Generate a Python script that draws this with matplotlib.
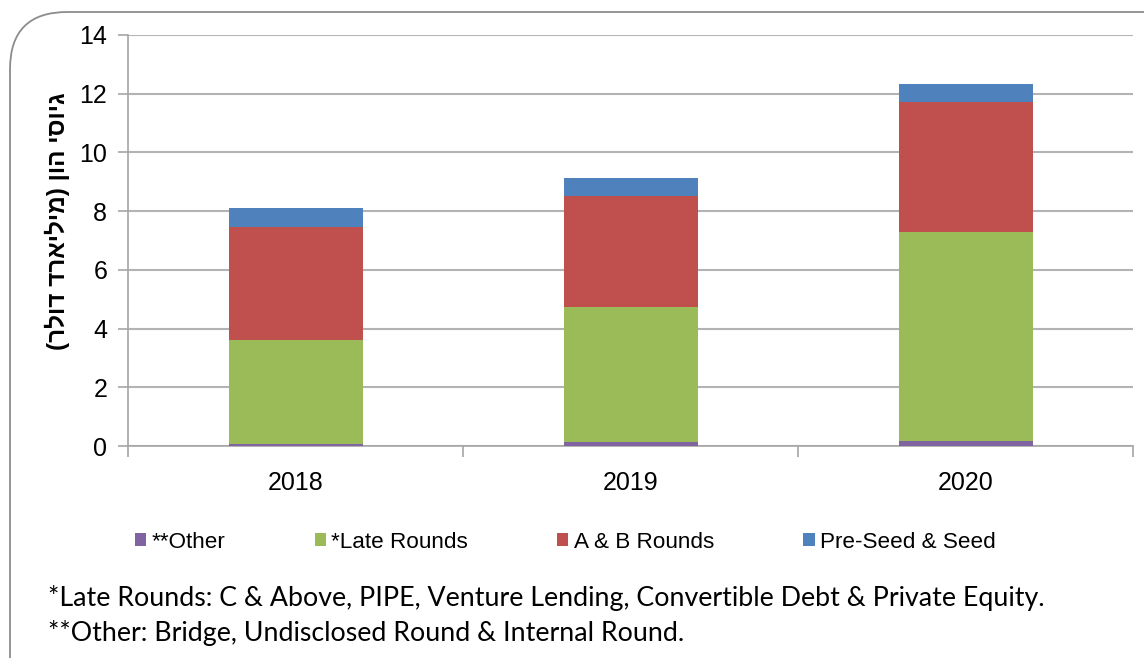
import matplotlib
matplotlib.use("Agg")
import matplotlib.pyplot as plt
from matplotlib.patches import Patch, FancyBboxPatch
import numpy as np

years = ["2018", "2019", "2020"]
other = [0.07, 0.12, 0.18]
late = [3.55, 4.62, 7.11]
ab = [3.84, 3.78, 4.42]
seed = [0.65, 0.61, 0.61]

series_names = ["**Other", "*Late Rounds", "A & B Rounds", "Pre-Seed & Seed"]
colors = ["#8064A2", "#9BBB59", "#C0504D", "#4F81BD"]
y_ticks = [0, 2, 4, 6, 8, 10, 12, 14]
ylabel_logical = "גיוסי הון (מיליארד דולר)"
footnotes = ["*Late Rounds: C & Above, PIPE, Venture Lending, Convertible Debt & Private Equity.",
             "**Other: Bridge, Undisclosed Round & Internal Round."]

def visual_rtl(s):
    mirror = {"(": ")", ")": "("}
    return "".join(mirror.get(c, c) for c in reversed(s))

W, H = 1144, 658
fig = plt.figure(figsize=(W / 100, H / 100), dpi=100)

# rounded frame
frame = FancyBboxPatch((10 / W, -0.1), 1.2, 1.1 - 12 / H,
                       boxstyle="round,pad=0,rounding_size=0.05",
                       transform=fig.transFigure, facecolor="none",
                       edgecolor="#8c8c8c", linewidth=1.3, mutation_aspect=W / H,
                       zorder=-1)
fig.patches.append(frame)

ax = fig.add_axes([128 / W, 1 - 446 / H, (1133 - 128) / W, (446 - 35) / H])
ax.set_facecolor("none")
x = np.arange(len(years))
bw = 0.4
gray = "#a6a6a6"
series = [other, late, ab, seed]
bottom = np.zeros(len(years))
for vals, c in zip(series, colors):
    ax.bar(x, vals, bw, bottom=bottom, color=c, zorder=3, linewidth=0)
    bottom += np.array(vals)

ax.set_xlim(-0.5, len(years) - 0.5)
ax.set_ylim(0, 14)
ax.set_yticks(y_ticks)
ax.yaxis.grid(True, color="#b3b3b3", linewidth=1.5, zorder=0)
ax.set_axisbelow(True)
ax.set_xticks(x)
ax.set_xticklabels(years, fontsize=18, family="Liberation Sans")
ax.set_xticks(np.arange(-0.5, len(years)), minor=True)
ax.tick_params(axis="x", which="major", length=0, pad=18)
ax.tick_params(axis="x", which="minor", length=8, color=gray, width=1.2)
ax.tick_params(axis="y", length=7, color=gray, width=1.2, labelsize=18, pad=8)
for lbl in ax.get_yticklabels():
    lbl.set_family("Liberation Sans")
for s in ["top", "right"]:
    ax.spines[s].set_visible(False)
for s in ["left", "bottom"]:
    ax.spines[s].set_color(gray)
    ax.spines[s].set_linewidth(1.2)

ax.set_ylabel(visual_rtl(ylabel_logical), fontsize=17.5, fontweight="bold",
              family="Liberation Sans", va="center")
ax.yaxis.set_label_coords(-0.0706, 0.547)

handles = [Patch(facecolor=c, edgecolor="none") for c in colors]
fig.legend(handles, series_names, loc="center left", bbox_to_anchor=(135 / W, 1 - 542 / H),
           ncol=4, frameon=False, prop={"family": "Liberation Sans", "size": 16.2},
           handlelength=0.5, handleheight=0.5, handletextpad=0.25, columnspacing=3.95,
           borderaxespad=0, borderpad=0)

for i, t in enumerate(footnotes):
    fig.text(48 / W, 1 - (598 + 35 * i) / H, t, fontsize=19.3, family="Lato",
             va="center", ha="left")

fig.savefig("out.png", dpi=100)
